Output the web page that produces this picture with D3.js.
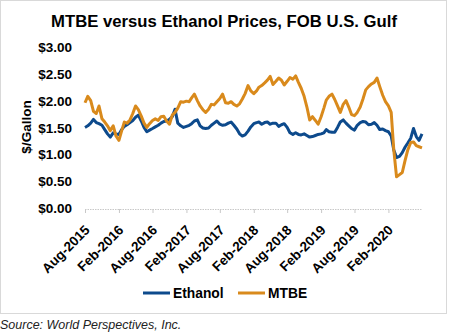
<!DOCTYPE html>
<html>
<head>
<meta charset="utf-8">
<script src="https://cdn.jsdelivr.net/npm/d3@7"></script>
<style>
	body { margin: 0; background: #fff; }
	#chart { width: 450px; height: 334px; }
	text { font-family: Arial, "Liberation Sans", sans-serif; }
</style>
</head>
<body>
<div id="chart"></div>
<script>
// semi-monthly readings, Aug 2015 - Aug 2020 ($/gallon)
var ethanol = [1.52, 1.55, 1.60, 1.67, 1.61, 1.59, 1.56, 1.48, 1.40, 1.34,
	1.42, 1.40, 1.39, 1.48, 1.54, 1.57, 1.61, 1.65, 1.71, 1.75,
	1.64, 1.52, 1.44, 1.47, 1.50, 1.53, 1.56, 1.60, 1.63, 1.64,
	1.67, 1.72, 1.86, 1.60, 1.55, 1.52, 1.54, 1.56, 1.59, 1.64,
	1.66, 1.55, 1.51, 1.50, 1.51, 1.56, 1.60, 1.64, 1.58, 1.56,
	1.57, 1.60, 1.62, 1.56, 1.49, 1.40, 1.36, 1.38, 1.45, 1.53,
	1.59, 1.61, 1.62, 1.58, 1.61, 1.62, 1.58, 1.60, 1.60, 1.54,
	1.57, 1.59, 1.52, 1.42, 1.39, 1.42, 1.39, 1.38, 1.40, 1.37,
	1.34, 1.35, 1.37, 1.39, 1.40, 1.42, 1.48, 1.44, 1.43, 1.43,
	1.52, 1.62, 1.66, 1.60, 1.55, 1.50, 1.47, 1.56, 1.61, 1.63,
	1.62, 1.57, 1.58, 1.61, 1.56, 1.48, 1.49, 1.46, 1.44, 1.36,
	1.10, 0.96, 0.98, 1.05, 1.15, 1.23, 1.32, 1.50, 1.35, 1.28,
	1.40];

var mtbe = [1.98, 2.10, 2.02, 1.82, 1.78, 1.92, 1.68, 1.62, 1.55, 1.46,
	1.55, 1.36, 1.28, 1.46, 1.62, 1.60, 1.66, 1.78, 1.92, 1.85,
	1.73, 1.60, 1.52, 1.59, 1.65, 1.68, 1.65, 1.72, 1.73, 1.64,
	1.58, 1.75, 1.80, 1.88, 2.00, 1.99, 2.01, 2.00, 2.07, 2.14,
	2.02, 1.92, 1.85, 1.80, 1.86, 1.95, 1.94, 2.00, 2.06, 2.14,
	1.98, 1.97, 2.00, 1.95, 1.92, 1.96, 2.05, 2.15, 2.30, 2.20,
	2.15, 2.20, 2.27, 2.30, 2.35, 2.40, 2.47, 2.32, 2.38, 2.44,
	2.40, 2.31, 2.38, 2.45, 2.42, 2.48, 2.36, 2.25, 2.10, 1.90,
	1.66, 1.72, 1.65, 1.58, 1.72, 1.88, 2.03, 2.10, 2.14, 2.04,
	1.92, 1.80, 1.95, 2.02, 1.90, 1.76, 1.74, 1.80, 1.90, 2.05,
	2.22, 2.28, 2.33, 2.36, 2.44, 2.28, 2.12, 2.00, 1.92, 1.80,
	1.10, 0.60, 0.64, 0.68, 0.90, 1.10, 1.24, 1.25, 1.18, 1.16,
	1.14];

var dates = ethanol.map(function(d, i) {
	return new Date(2015, 7 + Math.floor(i / 2), i % 2 ? 16 : 1);
});

var yTicks = [0, 0.5, 1, 1.5, 2, 2.5, 3];
var xTickLabels = ["Aug-2015", "Feb-2016", "Aug-2016", "Feb-2017", "Aug-2017",
	"Feb-2018", "Aug-2018", "Feb-2019", "Aug-2019", "Feb-2020"];

var seriesNames = ["Ethanol", "MTBE"];
var colors = ["#0D4A8C", "#D98A1C"];

var width = 450, height = 334;

var svg = d3.select("#chart")
	.append("svg")
	.attr("width", width)
	.attr("height", height);

// frame
svg.append("rect")
	.attr("x", 0.5)
	.attr("y", 0.5)
	.attr("width", 446)
	.attr("height", 313)
	.attr("fill", "#fff")
	.attr("stroke", "#d9d9d9");

svg.append("text")
	.attr("x", 224)
	.attr("y", 27)
	.attr("text-anchor", "middle")
	.attr("font-size", "16.7px")
	.attr("font-weight", "bold")
	.text("MTBE versus Ethanol Prices, FOB U.S. Gulf");

var x = d3.scaleTime()
	.domain([new Date(2015, 7, 1), new Date(2020, 7, 1)])
	.range([85, 422]);

var y = d3.scaleLinear()
	.domain([0, 3])
	.range([209, 48]);

// y labels
svg.selectAll(".ylab")
	.data(yTicks)
	.enter()
	.append("text")
	.attr("class", "ylab")
	.attr("x", 72)
	.attr("y", function(d) { return y(d); })
	.attr("dy", "0.3em")
	.attr("text-anchor", "end")
	.attr("font-size", "13.5px")
	.attr("font-weight", "bold")
	.text(function(d) { return "$" + d.toFixed(2); });

svg.append("text")
	.attr("transform", "translate(31,127) rotate(-90)")
	.attr("text-anchor", "middle")
	.attr("font-size", "13.5px")
	.attr("font-weight", "bold")
	.text("$/Gallon");

// x axis
var tickDates = xTickLabels.map(function(s) { return d3.timeParse("%b-%Y")(s); });
var xAxis = d3.axisBottom(x)
	.tickValues(tickDates)
	.tickSize(4)
	.tickFormat(function(d, i) { return xTickLabels[i]; });

var gx = svg.append("g")
	.attr("transform", "translate(0,209)")
	.call(xAxis);
gx.select(".domain")
	.attr("stroke", "#c8c8c8")
	.attr("stroke-dasharray", "1.5,1")
	.attr("d", "M85,0.5H422");
gx.selectAll(".tick line").attr("stroke", "#c8c8c8");
gx.selectAll(".tick text")
	.attr("font-size", "13.5px")
	.attr("font-weight", "bold")
	.attr("fill", "#000")
	.attr("text-anchor", "end")
	.attr("dy", 0)
	.attr("transform", "translate(0,17) rotate(-45)");

// lines
var line = d3.line()
	.x(function(d, i) { return x(dates[i]); })
	.y(function(d) { return y(d); });

[ethanol, mtbe].forEach(function(s, i) {
	svg.append("path")
		.datum(s)
		.attr("fill", "none")
		.attr("stroke", colors[i])
		.attr("stroke-width", 3)
		.attr("stroke-linejoin", "round")
		.attr("d", line);
});

// legend
var legendX = [143, 238];
seriesNames.forEach(function(name, i) {
	svg.append("line")
		.attr("x1", legendX[i])
		.attr("x2", legendX[i] + 27)
		.attr("y1", 293)
		.attr("y2", 293)
		.attr("stroke", colors[i])
		.attr("stroke-width", 3);
	svg.append("text")
		.attr("x", legendX[i] + 30)
		.attr("y", 298)
		.attr("font-size", "13.8px")
		.attr("font-weight", "bold")
		.text(name);
});

svg.append("text")
	.attr("x", 0)
	.attr("y", 329)
	.attr("font-size", "12.5px")
	.attr("font-style", "italic")
	.attr("fill", "#222")
	.text("Source: World Perspectives, Inc.");
</script>
</body>
</html>
